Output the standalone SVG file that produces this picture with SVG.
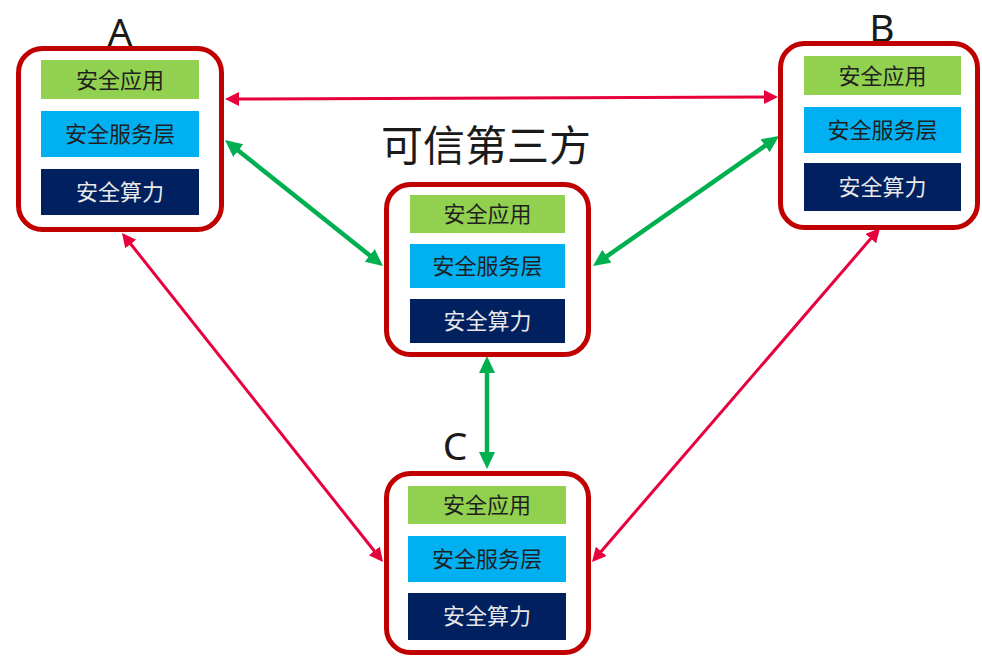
<svg xmlns="http://www.w3.org/2000/svg" width="982" height="656" viewBox="0 0 982 656">
  <style>
    .frame { fill: #ffffff; stroke: #c00000; stroke-width: 5; }
    .app { fill: #92d050; }
    .svc { fill: #00b0f0; }
    .cmp { fill: #002060; }
    .t { font-family: "Noto Sans CJK SC", "Noto Sans", sans-serif; font-size: 22px; text-anchor: middle; }
    .dark { fill: #1f1f1f; }
    .light { fill: #e8e8e8; }
    .lbl { font-family: "Noto Sans", "Liberation Sans", sans-serif; font-size: 39px; fill: #1a1a1a; text-anchor: middle; }
    .title { font-family: "Noto Sans CJK SC", sans-serif; font-size: 42px; fill: #1a1a1a; text-anchor: middle; }
    .red { stroke: #e8003d; stroke-width: 3; fill: none; marker-start: url(#ra); marker-end: url(#ra); }
    .green { stroke: #00b050; stroke-width: 4.5; fill: none; marker-start: url(#ga); marker-end: url(#ga); }
  </style>
  <defs>
    <marker id="ra" markerUnits="userSpaceOnUse" markerWidth="16" markerHeight="16" refX="1" refY="7" orient="auto-start-reverse" viewBox="0 0 16 16">
      <path d="M0,0 L14,7 L0,14 z" fill="#e8003d"/>
    </marker>
    <marker id="ga" markerUnits="userSpaceOnUse" markerWidth="18" markerHeight="18" refX="1" refY="8" orient="auto-start-reverse" viewBox="0 0 18 18">
      <path d="M0,0 L17,8 L0,16 z" fill="#00b050"/>
    </marker>
  </defs>

  <g id="connectors">
    <line class="red" x1="238" y1="99" x2="765" y2="97"/>
    <line class="green" x1="237.5" y1="150" x2="370.5" y2="256"/>
    <line class="green" x1="765.9" y1="145.2" x2="606.1" y2="256.8"/>
    <line class="green" x1="487" y1="372" x2="487" y2="453"/>
    <line class="red" x1="130.1" y1="243.2" x2="374.9" y2="551.8"/>
    <line class="red" x1="871.5" y1="237.8" x2="600.5" y2="552.2"/>
  </g>

  <g id="nodeA">
    <text class="lbl" x="120" y="46">A</text>
    <rect class="frame" x="18.5" y="48.5" width="203" height="181" rx="24"/>
    <rect class="app" x="41" y="60" width="158" height="39"/>
    <text class="t dark" x="120" y="87.5">安全应用</text>
    <rect class="svc" x="41" y="111" width="158" height="46"/>
    <text class="t dark" x="120" y="141.5">安全服务层</text>
    <rect class="cmp" x="41" y="169" width="158" height="46"/>
    <text class="t light" x="120" y="199.5">安全算力</text>
  </g>

  <g id="nodeB">
    <text class="lbl" x="882" y="42">B</text>
    <rect class="frame" x="780.5" y="43.5" width="197" height="184" rx="24"/>
    <rect class="app" x="804" y="56" width="157" height="39"/>
    <text class="t dark" x="882.5" y="83.5">安全应用</text>
    <rect class="svc" x="804" y="107" width="157" height="46"/>
    <text class="t dark" x="882.5" y="137.5">安全服务层</text>
    <rect class="cmp" x="804" y="163" width="157" height="48"/>
    <text class="t light" x="882.5" y="194.5">安全算力</text>
  </g>

  <g id="nodeTrusted">
    <text class="title" x="486" y="161">可信第三方</text>
    <rect class="frame" x="386.5" y="184.5" width="202" height="170" rx="24"/>
    <rect class="app" x="410" y="195" width="155" height="38"/>
    <text class="t dark" x="487.5" y="221.5">安全应用</text>
    <rect class="svc" x="410" y="244" width="155" height="44"/>
    <text class="t dark" x="487.5" y="273.5">安全服务层</text>
    <rect class="cmp" x="410" y="299" width="155" height="44"/>
    <text class="t light" x="487.5" y="328.5">安全算力</text>
  </g>

  <g id="nodeC">
    <text class="lbl" x="455" y="460">C</text>
    <rect class="frame" x="386.5" y="473.5" width="202" height="179" rx="24"/>
    <rect class="app" x="408" y="486" width="158" height="38"/>
    <text class="t dark" x="487" y="512.5">安全应用</text>
    <rect class="svc" x="408" y="536" width="158" height="46"/>
    <text class="t dark" x="487" y="566.5">安全服务层</text>
    <rect class="cmp" x="408" y="593" width="158" height="47"/>
    <text class="t light" x="487" y="623.5">安全算力</text>
  </g>
</svg>
